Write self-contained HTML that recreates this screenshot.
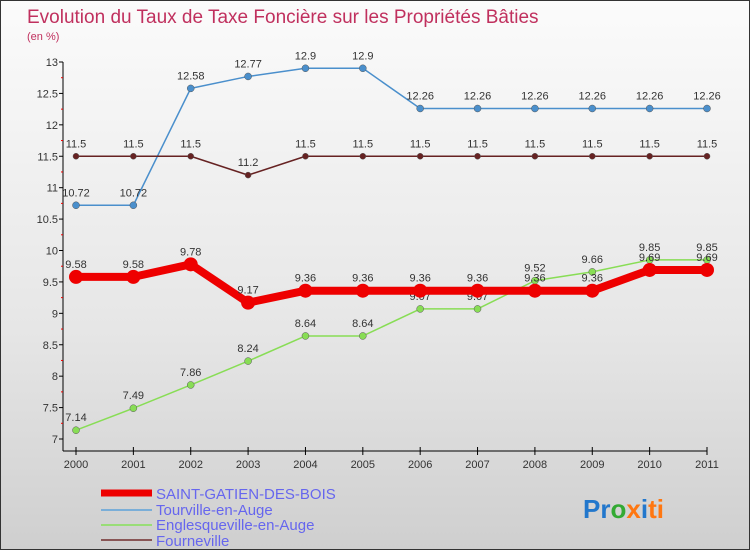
<!DOCTYPE html>
<html><head><meta charset="utf-8"><style>
body{margin:0}
#c{width:750px;height:550px;position:relative;overflow:hidden;font-family:"Liberation Sans",sans-serif;background:linear-gradient(#fbfbfb,#e6e6e6 60%,#cfcfcf);border:1px solid #333;box-sizing:border-box}
svg text{font-family:"Liberation Sans",sans-serif}
</style></head><body>
<div id="c">
<svg id="s" width="750" height="550">
<text x="26" y="22" font-size="19" fill="#c0305e">Evolution du Taux de Taxe Foncière sur les Propriétés Bâties</text>
<text x="26" y="39" font-size="11" fill="#c0305e">(en %)</text>
<g id="axes"></g><g id="series"></g>
<g font-size="15" fill="#6666ee">
<line x1="100" y1="492" x2="151" y2="492" stroke="#e00" stroke-width="7"/>
<text x="155" y="498">SAINT-GATIEN-DES-BOIS</text>
<line x1="100" y1="509" x2="151" y2="509" stroke="#7aaed8" stroke-width="2"/>
<text x="155" y="514">Tourville-en-Auge</text>
<line x1="100" y1="524" x2="151" y2="524" stroke="#99dd77" stroke-width="2"/>
<text x="155" y="529">Englesqueville-en-Auge</text>
<line x1="100" y1="539" x2="151" y2="539" stroke="#885555" stroke-width="2"/>
<text x="155" y="545">Fourneville</text>
</g>
<text x="582" y="517" font-size="26" font-weight="bold"><tspan fill="#2277cc">Pr</tspan><tspan fill="#33aa33">o</tspan><tspan fill="#ff7711">x</tspan><tspan fill="#2277cc">i</tspan><tspan fill="#ff7711">ti</tspan></text>
</svg></div>
<script>
const years=[2000,2001,2002,2003,2004,2005,2006,2007,2008,2009,2010,2011];
const yTicks=[7,7.5,8,8.5,9,9.5,10,10.5,11,11.5,12,12.5,13];
const saintGatien=[9.58,9.58,9.78,9.17,9.36,9.36,9.36,9.36,9.36,9.36,9.69,9.69];
const tourville=[10.72,10.72,12.58,12.77,12.9,12.9,12.26,12.26,12.26,12.26,12.26,12.26];
const englesqueville=[7.14,7.49,7.86,8.24,8.64,8.64,9.07,9.07,9.52,9.66,9.85,9.85];
const fourneville=[11.5,11.5,11.5,11.2,11.5,11.5,11.5,11.5,11.5,11.5,11.5,11.5];
const NS='http://www.w3.org/2000/svg';
const X=i=>75+i*(706-75)/(years.length-1);
const Y=v=>438-(v-7)*(438-61)/6;
function mk(t,a,p){const e=document.createElementNS(NS,t);for(const k in a)e.setAttribute(k,a[k]);p.appendChild(e);return e;}
const ax=document.getElementById('axes'),se=document.getElementById('series');
let l=mk('line',{x1:62,y1:61,x2:62,y2:450,stroke:'#000'},ax);


l=mk('line',{x1:62,y1:450,x2:706,y2:450,stroke:'#000'},ax);


yTicks.forEach(v=>{const y=Y(v);
 mk('line',{x1:58,y1:y,x2:62,y2:y,stroke:'#000'},ax);
 if(v<13)mk('line',{x1:60,y1:Y(v+0.25),x2:62,y2:Y(v+0.25),stroke:'#e00'},ax);
 const t=mk('text',{x:57,y:y+4,'font-size':11,fill:'#333','text-anchor':'end'},ax);t.textContent=v;
 
 });
years.forEach((yr,i)=>{const x=X(i);
 mk('line',{x1:x,y1:446,x2:x,y2:454,stroke:'#000'},ax);
 const t=mk('text',{x:x,y:467,'font-size':11,fill:'#333','text-anchor':'middle'},ax);t.textContent=yr;
 
 });
function series(d,col,w,r,name){
 const g=mk('g',{},se);
 
 
 mk('polyline',{points:d.map((v,i)=>X(i)+','+Y(v)).join(' '),fill:'none',stroke:col,'stroke-width':w,'stroke-linejoin':'round'},g);
 d.forEach((v,i)=>{mk('circle',{cx:X(i),cy:Y(v),r:r,fill:col,stroke:'#555','stroke-width':r>4?0:0.5},g);
  const t=mk('text',{x:X(i),y:Y(v)-9,'font-size':11,fill:'#333','text-anchor':'middle'},g);t.textContent=v;});
}
series(tourville,'#4a8fcc',1.5,3.5,'series-tourville');
series(englesqueville,'#88dd55',1.5,3.5,'series-englesqueville');
series(fourneville,'#662222',1.5,3,'series-fourneville');
series(saintGatien,'#ee0000',8,7,'series-saint-gatien');
</script>
</body></html>
